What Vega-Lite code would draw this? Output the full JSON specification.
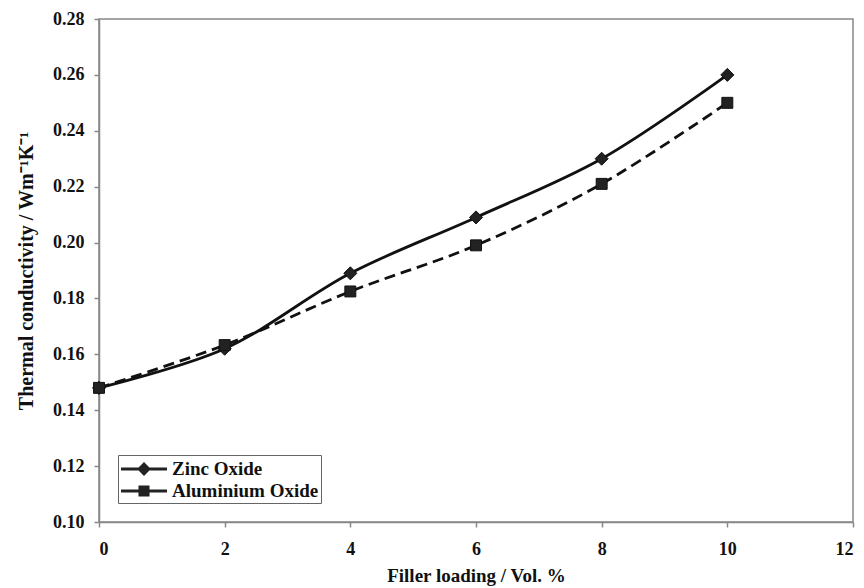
{
  "$schema": "https://vega.github.io/schema/vega-lite/v6.json",
  "autosize": "none",
  "width": 754,
  "height": 503,
  "padding": {"left": 99, "top": 19, "right": 11, "bottom": 66},
  "background": "white",
  "config": {
    "font": "Liberation Serif",
    "view": {"stroke": "#888", "strokeWidth": 1.5},
    "axis": {
      "grid": false,
      "domainColor": "#888",
      "domainWidth": 1.5,
      "tickColor": "#888",
      "tickWidth": 1.5,
      "tickSize": 5,
      "labelFont": "Liberation Serif",
      "labelFontWeight": "bold",
      "labelFontSize": 18,
      "labelColor": "#111",
      "titleFont": "Liberation Serif",
      "titleFontWeight": "bold",
      "titleFontSize": 19,
      "titleColor": "#111"
    }
  },
  "data": {
    "values": [
      {"load": 0, "k": 0.148, "series": "Zinc Oxide"},
      {"load": 2, "k": 0.162, "series": "Zinc Oxide"},
      {"load": 4, "k": 0.189, "series": "Zinc Oxide"},
      {"load": 6, "k": 0.209, "series": "Zinc Oxide"},
      {"load": 8, "k": 0.230, "series": "Zinc Oxide"},
      {"load": 10, "k": 0.260, "series": "Zinc Oxide"},
      {"load": 0, "k": 0.148, "series": "Aluminium Oxide"},
      {"load": 2, "k": 0.1633, "series": "Aluminium Oxide"},
      {"load": 4, "k": 0.1825, "series": "Aluminium Oxide"},
      {"load": 6, "k": 0.199, "series": "Aluminium Oxide"},
      {"load": 8, "k": 0.221, "series": "Aluminium Oxide"},
      {"load": 10, "k": 0.250, "series": "Aluminium Oxide"}
    ]
  },
  "encoding": {
    "x": {
      "field": "load", "type": "quantitative",
      "scale": {"domain": [0, 12], "nice": false},
      "axis": {"values": [0, 2, 4, 6, 8, 10, 12], "labelPadding": 13, "titlePadding": 8, "title": "Filler loading / Vol. %"}
    },
    "y": {
      "field": "k", "type": "quantitative",
      "scale": {"domain": [0.10, 0.28], "nice": false, "zero": false},
      "axis": {"values": [0.10, 0.12, 0.14, 0.16, 0.18, 0.20, 0.22, 0.24, 0.26, 0.28], "format": ".2f", "labelPadding": 10, "titlePadding": 16, "titleFontSize": 20, "title": "Thermal conductivity / Wm⁻¹K⁻¹"}
    }
  },
  "layer": [
    {
      "transform": [{"filter": "datum.series === 'Zinc Oxide'"}],
      "mark": {"type": "line", "interpolate": "catmull-rom", "color": "#111", "strokeWidth": 2.8}
    },
    {
      "transform": [{"filter": "datum.series === 'Aluminium Oxide'"}],
      "mark": {"type": "line", "interpolate": "catmull-rom", "color": "#111", "strokeWidth": 2.8, "strokeDash": [11, 6]}
    },
    {
      "transform": [{"filter": "datum.series === 'Zinc Oxide'"}],
      "mark": {"type": "point", "shape": "diamond", "filled": true, "color": "#222", "stroke": "#111", "strokeWidth": 1, "opacity": 1, "size": 170}
    },
    {
      "transform": [{"filter": "datum.series === 'Aluminium Oxide'"}],
      "mark": {"type": "point", "shape": "square", "filled": true, "color": "#222", "stroke": "#111", "strokeWidth": 1, "opacity": 1, "size": 120}
    },
    {
      "mark": {"type": "point", "filled": true, "opacity": 0, "color": "#222"},
      "encoding": {
        "shape": {
          "field": "series", "type": "nominal",
          "scale": {
            "domain": ["Zinc Oxide", "Aluminium Oxide"],
            "range": [
              "M-2,-0.12L2,-0.12L2,0.12L-2,0.12ZM0,-0.6L0.6,0L0,0.6L-0.6,0Z",
              "M-2,-0.12L2,-0.12L2,0.12L-2,0.12ZM-0.48,-0.48L0.48,-0.48L0.48,0.48L-0.48,0.48Z"
            ]
          },
          "legend": {
            "title": null,
            "orient": "bottom-left",
            "offset": 19,
            "symbolSize": 530,
            "symbolOpacity": 1,
            "symbolStrokeColor": "#111",
            "symbolFillColor": "#222",
            "symbolStrokeWidth": 0,
            "symbolOffset": 12,
            "labelOffset": 16,
            "labelFont": "Liberation Serif",
            "labelFontWeight": "bold",
            "labelFontSize": 19,
            "labelColor": "#111",
            "rowPadding": 0,
            "padding": 2,
            "strokeColor": "#666",
            "fillColor": "white",
            "labelLimit": 300,
            "encode": {
              "legend": {"update": {"strokeWidth": {"value": 1.5}}},
              "symbols": {"update": {"fill": {"value": "#1a1a1a"}, "opacity": {"value": 1}}}
            }
          }
        }
      }
    }
  ]
}
